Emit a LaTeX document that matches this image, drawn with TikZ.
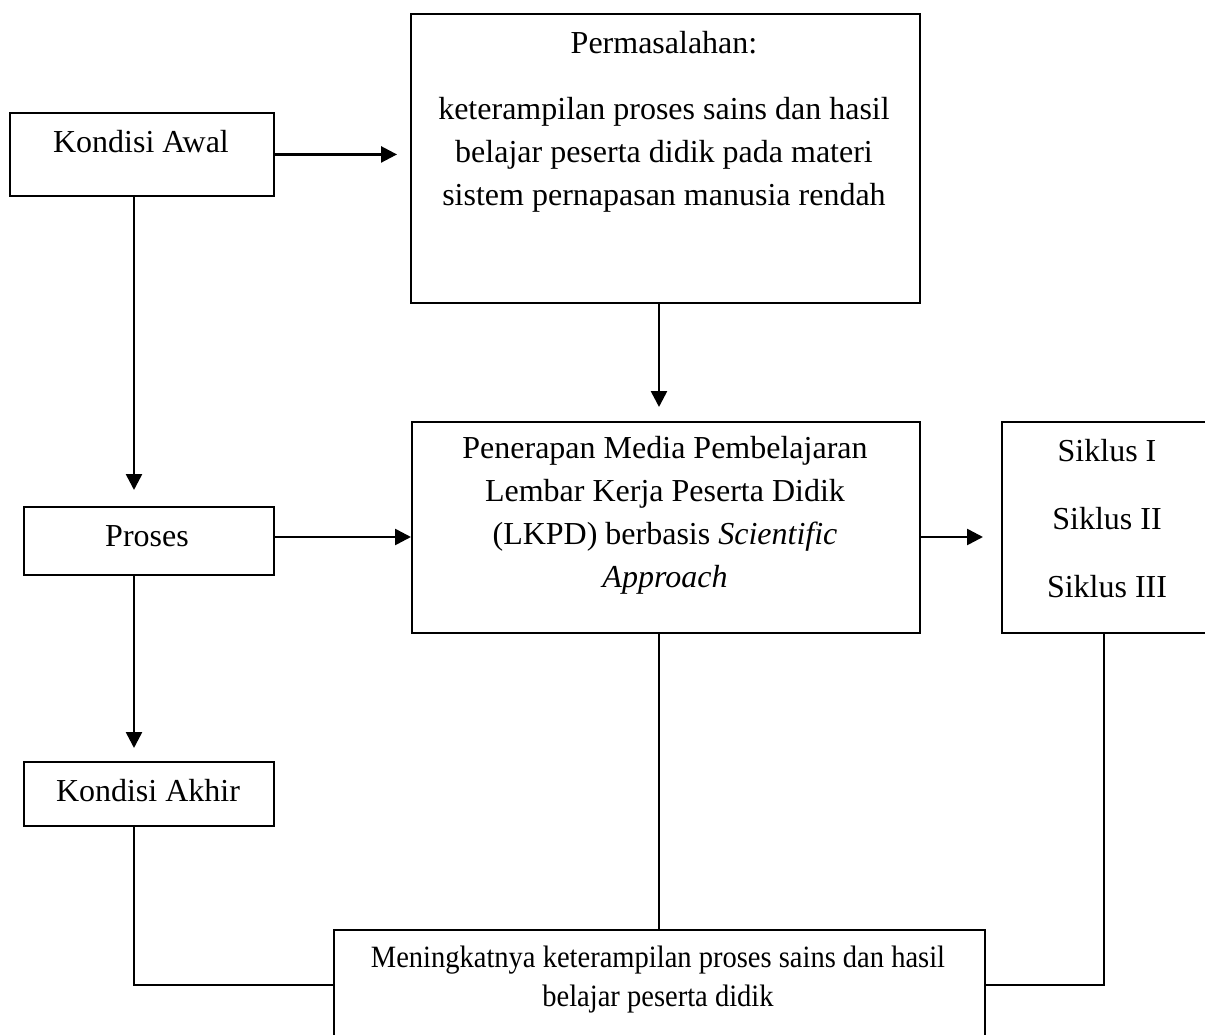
\documentclass[tikz,border=0pt]{standalone}
\usepackage{fontspec}
\setmainfont{Liberation Serif}
\newfontfamily\condfont[FakeStretch=0.92]{Liberation Serif}
\usetikzlibrary{arrows.meta,calc}
\begin{document}
\begin{tikzpicture}[x=1pt,y=-1pt,
  box/.style={draw, line width=1.9pt, inner sep=0pt, anchor=north west},
  txt/.style={inner sep=0pt, align=center, font=\fontsize{32}{43}\selectfont},
  conn/.style={line width=2.6pt},
  arr/.style={conn, -{Triangle[length=16pt,width=16pt]}}]
\useasboundingbox[fill=white] (0,0) rectangle (1205,1035);

% boxes
\node[box, minimum width=264pt, minimum height=83pt]  (awal)   at (9,112)   {};
\node[box, minimum width=509pt, minimum height=289pt] (perm)   at (410,13)  {};
\node[box, minimum width=250pt, minimum height=68pt]  (proses) at (23,506)  {};
\node[box, minimum width=508pt, minimum height=211pt] (pen)    at (411,421) {};
\node[box, minimum width=214pt, minimum height=211pt] (siklus) at (1001,421) {};
\node[box, minimum width=250pt, minimum height=64pt]  (akhir)  at (23,761)  {};
\node[box, minimum width=651pt, minimum height=110pt] (men)    at (333,929) {};

% texts
\node[txt] (tawal) at (141,142) {Kondisi Awal};
\node[txt] (tpermhead) at (664,43) {Permasalahan:};
\node[txt] (tperm) at (664,155) {keterampilan proses sains dan hasil\\belajar peserta didik pada materi\\sistem pernapasan manusia rendah};
\node[txt] (tproses) at (147,536) {Proses};
\node[txt] (tpen) at (665,515) {Penerapan Media Pembelajaran\\Lembar Kerja Peserta Didik\\(LKPD) berbasis \textit{Scientific}\\\textit{Approach}};
\node[txt, font=\fontsize{32}{68}\selectfont] (tsiklus) at (1107,519) {Siklus I\\Siklus II\\Siklus III};
\node[txt] (takhir) at (148,791) {Kondisi Akhir};
\node[txt, font=\fontsize{31}{39}\selectfont\condfont] (tmen) at (658,980) {Meningkatnya keterampilan proses sains dan hasil\\belajar peserta didik};

% helper coordinates
\coordinate (cL) at (134,0);
\coordinate (cM) at (659,0);
\coordinate (cR) at (1104,0);
\coordinate (yP) at (0,537);

% connectors
\draw[arr, shorten >=13pt] (awal.east) -- (awal.east -| perm.west);
\draw[arr, shorten >=16pt] (awal.south -| cL) -- (proses.north -| cL);
\draw[arr] (proses.east |- yP) -- (pen.west |- yP);
\draw[arr, shorten >=13pt] (proses.south -| cL) -- (akhir.north -| cL);
\draw[arr, shorten >=14pt] (perm.south -| cM) -- (pen.north -| cM);
\draw[arr, shorten >=18pt] (pen.east |- yP) -- (siklus.west |- yP);
\draw[conn] (akhir.south -| cL) |- (men.west);
\draw[conn] (pen.south -| cM) -- (men.north -| cM);
\draw[conn] (siklus.south -| cR) |- (men.east);
\end{tikzpicture}
\end{document}
